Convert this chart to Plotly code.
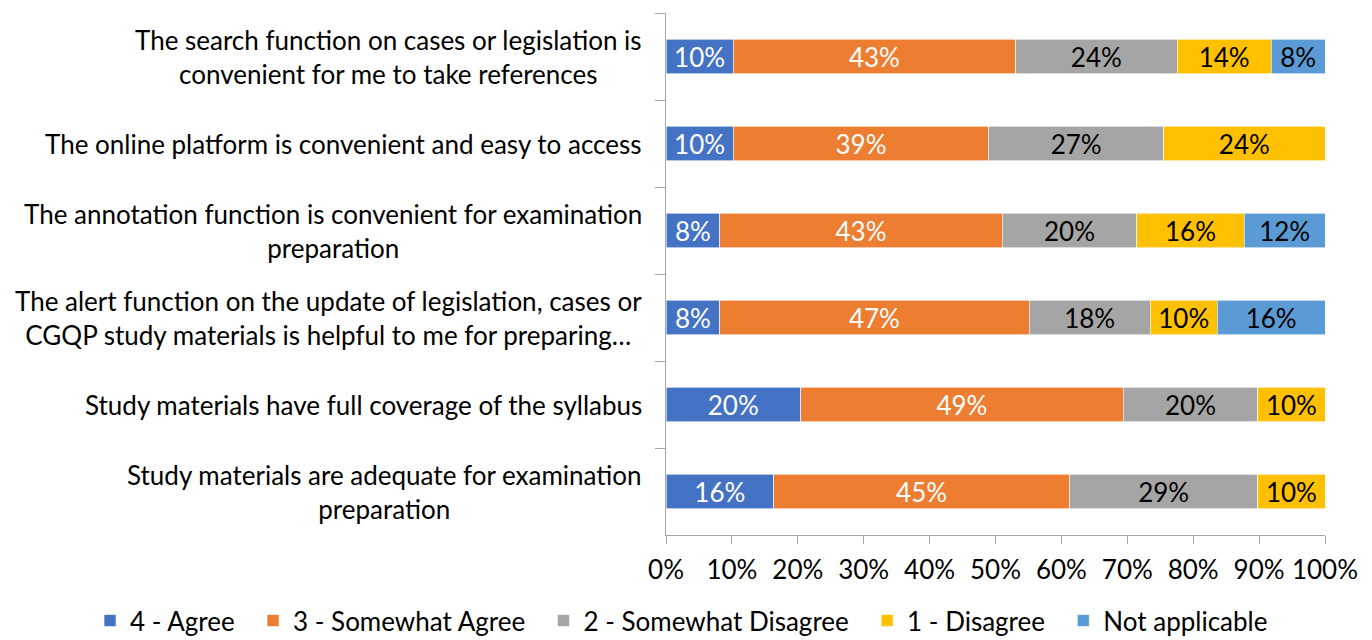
import plotly.graph_objects as go

categories = [
    "The search function on cases or legislation is<br>convenient for me to take references",
    "The online platform is convenient and easy to access",
    "The annotation function is convenient for examination<br>preparation",
    "The alert function on the update of legislation, cases or<br>CGQP study materials is helpful to me for preparing…",
    "Study materials have full coverage of the syllabus",
    "Study materials are adequate for examination<br>preparation",
]

series_names = ["4 - Agree", "3 - Somewhat Agree", "2 - Somewhat Disagree", "1 - Disagree", "Not applicable"]

agree = [10.20, 10.20, 8.16, 8.16, 20.41, 16.33]
somewhat_agree = [42.86, 38.78, 42.86, 46.94, 48.98, 44.90]
somewhat_disagree = [24.49, 26.53, 20.41, 18.37, 20.41, 28.57]
disagree = [14.29, 24.49, 16.33, 10.20, 10.20, 10.20]
not_applicable = [8.16, None, 12.24, 16.33, None, None]

series_values = [agree, somewhat_agree, somewhat_disagree, disagree, not_applicable]
colors = ["#4472C4", "#ED7D31", "#A5A5A5", "#FFC000", "#5B9BD5"]
text_colors = ["white", "white", "black", "black", "black"]

FONT = "Lato"
FS = 26
PAD = "\u00a0" * 2  # visual spacing between legend entries

fig = go.Figure()
for i, (name, vals, col, tcol) in enumerate(zip(series_names, series_values, colors, text_colors)):
    fig.add_trace(go.Bar(
        y=categories,
        x=vals,
        name=name + (PAD if i < len(series_names) - 1 else ""),
        orientation="h",
        marker=dict(color=col, line=dict(color="white", width=0.6)),
        texttemplate="%{x:.0f}%",
        textposition="inside",
        insidetextanchor="middle",
        constraintext="none",
        textfont=dict(family=FONT, size=FS, color=tcol),
        hovertemplate=name + ": %{x:.1f}%<extra></extra>",
    ))

# category labels (centered multi-line, right-aligned to the axis)
for cat in categories:
    fig.add_annotation(
        x=0, xref="paper",
        y=cat, yref="y",
        text=cat,
        showarrow=False,
        xanchor="right",
        yanchor="middle",
        align="center",
        xshift=-22,
        font=dict(family=FONT, size=FS, color="black"),
    )

fig.update_layout(
    barmode="stack",
    bargap=0.6,
    width=1372,
    height=640,
    margin=dict(l=658, r=55, t=5, b=113, autoexpand=False),
    paper_bgcolor="white",
    plot_bgcolor="white",
    font=dict(family=FONT, size=FS, color="black"),
    showlegend=True,
    legend=dict(
        orientation="h",
        x=-0.874,
        xanchor="left",
        y=-0.119,
        yanchor="top",
        font=dict(family=FONT, size=FS, color="black"),
        itemwidth=30,
        traceorder="normal",
        bgcolor="rgba(0,0,0,0)",
    ),
)

fig.update_xaxes(
    range=[0, 100],
    dtick=10,
    ticksuffix="%",
    showgrid=False,
    zeroline=False,
    showline=True,
    linecolor="#A6A6A6",
    linewidth=1,
    ticks="outside",
    ticklen=8,
    tickcolor="#A6A6A6",
    ticklabelstandoff=4,
    tickfont=dict(family=FONT, size=FS, color="black"),
)

fig.update_yaxes(
    autorange="reversed",
    showgrid=False,
    showline=True,
    linecolor="#A6A6A6",
    linewidth=1,
    ticks="outside",
    tickson="boundaries",
    ticklen=10,
    tickcolor="#A6A6A6",
    showticklabels=False,
)

fig.write_html("out.html")
